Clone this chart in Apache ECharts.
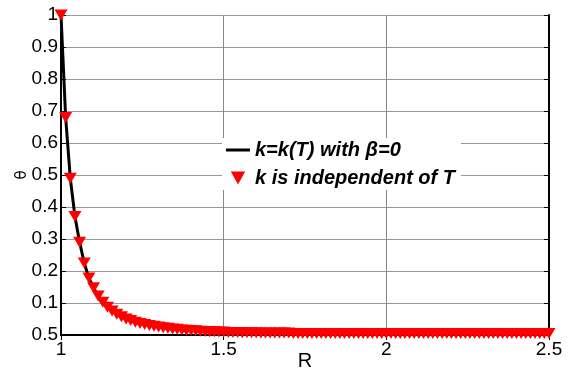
<!DOCTYPE html>
<html>
<head>
<meta charset="utf-8">
<script src="https://cdn.jsdelivr.net/npm/echarts@6/dist/echarts.min.js"></script>
<style>
  html, body { margin: 0; padding: 0; background: #fff; }
  #chart { width: 573px; height: 370px; }
</style>
</head>
<body>
<div id="chart"></div>
<script>
// R sample points, step 1/70 from 1 to 2.5
var rStep = 1 / 70;
var thetaVarK = [
  1.000, 0.680, 0.490, 0.370, 0.290, 0.225, 0.178, 0.148, 0.122, 0.102,
  0.087, 0.075, 0.065, 0.057, 0.050, 0.045, 0.040, 0.036, 0.033, 0.030,
  0.027, 0.025, 0.023, 0.021, 0.019, 0.018, 0.016, 0.015, 0.014, 0.013,
  0.012, 0.011, 0.010, 0.010, 0.009, 0.009, 0.008, 0.008, 0.008, 0.007,
  0.007, 0.007, 0.007, 0.006, 0.006, 0.006, 0.006, 0.006, 0.006, 0.006,
  0.005, 0.005, 0.005, 0.005, 0.005, 0.005, 0.005, 0.005, 0.005, 0.005,
  0.005, 0.005, 0.005, 0.005, 0.005, 0.005, 0.005, 0.005, 0.005, 0.005,
  0.005, 0.005, 0.005, 0.005, 0.005, 0.005, 0.005, 0.005, 0.005, 0.005,
  0.005, 0.005, 0.005, 0.005, 0.005, 0.005, 0.005, 0.005, 0.005, 0.005,
  0.005, 0.005, 0.005, 0.005, 0.005, 0.005, 0.005, 0.005, 0.005, 0.005,
  0.005, 0.005, 0.005, 0.005, 0.005, 0.005
];
var thetaConstK = thetaVarK.slice();
var yTickLabels = { 0: "0.5", 0.1: "0.1", 0.2: "0.2", 0.3: "0.3", 0.4: "0.4",
  0.5: "0.5", 0.6: "0.6", 0.7: "0.7", 0.8: "0.8", 0.9: "0.9", 1: "1" };

var lineData = thetaVarK.map(function (v, i) { return [1 + i * rStep, v]; });
var markData = thetaConstK.map(function (v, i) { return [1 + i * rStep, v]; });

var font = "Liberation Sans, Arial, sans-serif";
var chart = echarts.init(document.getElementById("chart"));
var option = {
  animation: false,
  grid: { left: 61, right: 24, top: 15, bottom: 35, outerBoundsMode: "none", containLabel: false },
  legend: {
    orient: "vertical",
    left: 222,
    top: 138,
    itemGap: 8,
    itemWidth: 24,
    itemHeight: 13,
    backgroundColor: "#fff",
    padding: [2, 6, 2, 4],
    textStyle: { fontFamily: font, fontSize: 20, fontStyle: "italic", fontWeight: "bold", color: "#000" },
    data: [
      { name: "k=k(T) with β=0", icon: "path://M0,0 L24,0 L24,3 L0,3 Z" },
      { name: "k is independent of T", icon: "path://M0,0 L10,0 L5,9 Z" },
    ],
  },
  xAxis: [
    {
      type: "value", min: 1, max: 2.5, interval: 0.5,
      name: "R", nameLocation: "middle", nameGap: 16, nameMoveOverlap: false,
      nameTextStyle: { fontFamily: font, fontSize: 20, color: "#000", verticalAlign: "top" },
      axisLine: { lineStyle: { color: "#000", width: 2 } },
      axisTick: { inside: true, length: 5, lineStyle: { color: "#000" } },
      axisLabel: { fontFamily: font, fontSize: 19, color: "#000", margin: 5,
        formatter: function (v) { return String(v); } },
      splitLine: { show: true, lineStyle: { color: "#888", width: 1 } },
    },
    {
      type: "value", min: 1, max: 2.5, interval: 0.5, position: "top",
      axisLine: { lineStyle: { color: "#000", width: 2 } },
      axisTick: { inside: true, length: 5, lineStyle: { color: "#000" } },
      axisLabel: { show: false }, splitLine: { show: false },
    },
  ],
  yAxis: [
    {
      type: "value", min: 0, max: 1, interval: 0.1,
      name: "θ", nameLocation: "middle", nameGap: 31, nameRotate: 90, nameMoveOverlap: false,
      nameTextStyle: { fontFamily: "DejaVu Sans, sans-serif", fontSize: 15, color: "#000" },
      axisLine: { lineStyle: { color: "#000", width: 2 } },
      axisTick: { inside: true, length: 5, lineStyle: { color: "#000" } },
      axisLabel: { fontFamily: font, fontSize: 19, color: "#000", margin: 3,
        formatter: function (v) { return yTickLabels[Math.round(v * 10) / 10]; } },
      splitLine: { show: true, lineStyle: { color: "#999", width: 1 } },
    },
    {
      type: "value", min: 0, max: 1, interval: 0.1, position: "right",
      axisLine: { show: true, lineStyle: { color: "#000", width: 2 } },
      axisTick: { show: true, inside: true, length: 5, lineStyle: { color: "#000" } },
      axisLabel: { show: false }, splitLine: { show: false },
    },
  ],
  series: [
    {
      name: "k=k(T) with β=0",
      type: "line",
      data: lineData,
      showSymbol: false,
      lineStyle: { color: "#000", width: 3 },
      itemStyle: { color: "#000" },
      z: 2,
    },
    {
      name: "k is independent of T",
      type: "scatter",
      data: markData,
      symbol: "triangle",
      symbolRotate: 180,
      symbolSize: [13, 11],
      itemStyle: { color: "#ff0000", opacity: 1 },
      z: 3,
    },
  ],
};
chart.setOption(option);
</script>
</body>
</html>
